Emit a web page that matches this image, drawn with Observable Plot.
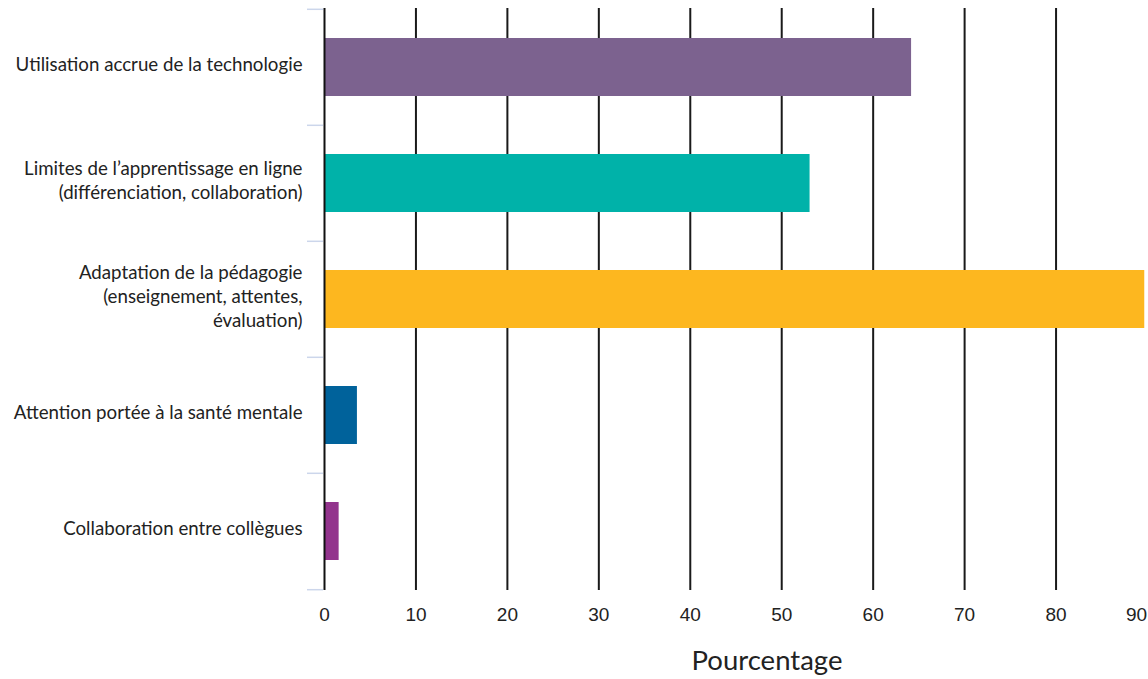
<!DOCTYPE html>
<html>
<head>
<meta charset="utf-8">
<script src="https://cdn.jsdelivr.net/npm/d3@7"></script>
<script src="https://cdn.jsdelivr.net/npm/@observablehq/plot@0.6"></script>
<style>
  html, body { margin: 0; padding: 0; background: #fff; overflow: hidden; }
</style>
</head>
<body>
<div id="chart"></div>
<script>
const categories = [
  "Utilisation accrue de la technologie",
  "Limites de l’apprentissage en ligne\n(différenciation, collaboration)",
  "Adaptation de la pédagogie\n(enseignement, attentes,\névaluation)",
  "Attention portée à la santé mentale",
  "Collaboration entre collègues"
];
const values = [64.2, 53.1, 89.7, 3.6, 1.6];
const colors = ["#7c628f", "#00b2a9", "#fdb71f", "#00629b", "#93348d"];
const xTicks = [0, 10, 20, 30, 40, 50, 60, 70, 80, 90];
const gridTicks = [10, 20, 30, 40, 50, 60, 70, 80];
const xTitle = "Pourcentage";

const data = categories.map((c, i) => ({category: c, value: values[i], color: colors[i]}));

const step = (590 - 8) / categories.length;

const chart = Plot.plot({
  width: 1148,
  height: 679,
  marginTop: 8,
  marginBottom: 89,
  marginLeft: 324,
  marginRight: 1,
  style: {fontFamily: "Lato, sans-serif", background: "#fff"},
  x: {domain: [0, 90], label: null},
  y: {domain: categories, paddingInner: 0.5, paddingOuter: 0.25, label: null},
  color: {type: "identity"},
  marks: [
    Plot.ruleX(gridTicks, {stroke: "#1a1a1a", strokeWidth: 2}),
    Plot.barX(data, {y: "category", x: "value", fill: "color"}),
    Plot.ruleX([0], {stroke: "#111", strokeWidth: 2}),
    Plot.axisY({tickSize: 16, tickFormat: () => "", stroke: "#ccd6eb", strokeWidth: 1.5, dy: -step / 2, dx: -1}),
    Plot.axisY({ticks: [categories[categories.length - 1]], tickSize: 16, tickFormat: () => "", stroke: "#ccd6eb", strokeWidth: 1.5, dy: step / 2, dx: -1}),
    Plot.axisY({tickSize: 0, tickPadding: 22, dy: -4, fontSize: 18.7, lineHeight: 1.26, fill: "#222", fontFamily: "Lato"}),
    Plot.axisX({ticks: xTicks.slice(0, -1), tickSize: 0, tickPadding: 17, fontSize: 19, fill: "#222", fontFamily: "Liberation Sans, Arial, sans-serif"}),
    Plot.axisX({ticks: xTicks.slice(-1), tickSize: 0, tickPadding: 17, fontSize: 19, fill: "#222", dx: -11, fontFamily: "Liberation Sans, Arial, sans-serif"}),
    Plot.text([xTitle], {frameAnchor: "bottom", dx: 31, dy: 79, fontSize: 27.5, fill: "#222", fontFamily: "Lato"})
  ]
});
document.getElementById("chart").append(chart);
</script>
</body>
</html>
